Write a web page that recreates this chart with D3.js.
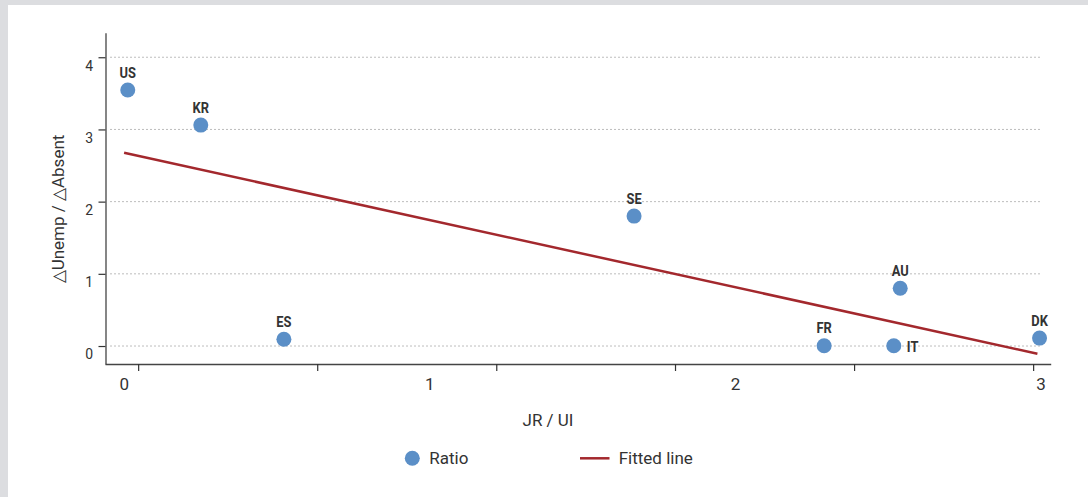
<!DOCTYPE html>
<html>
<head>
<meta charset="utf-8">
<script src="https://cdn.jsdelivr.net/npm/d3@7"></script>
<style>
  html, body { margin: 0; padding: 0; background: #dcdde0; }
  svg { display: block; }
  text { font-family: Roboto, "Noto Sans", sans-serif; fill: #333; }
</style>
</head>
<body>
<svg id="chart" width="1088" height="497"></svg>
<script>
// ---- data ----
const countries = ["US", "KR", "ES", "SE", "FR", "IT", "AU", "DK"];
const ratioX = [0.013, 0.252, 0.524, 1.670, 2.292, 2.520, 2.541, 2.997];
const ratioY = [3.546, 3.06, 0.093, 1.80, 0.004, 0.004, 0.80, 0.11];
const labelSide = ["top", "top", "top", "top", "top", "right", "top", "top"];
const fitX = [0.001, 2.99];
const fitY = [2.677, -0.107];
const xTickLabels = [0, 1, 2, 3];
const xTickMarks = [0.047, 0.633, 1.219, 1.804, 2.390, 2.976];
const yTicks = [0, 1, 2, 3, 4];
const xTitle = "JR / UI";
const yTitle = "\u25B3Unemp / \u25B3Absent";
const legendLabels = ["Ratio", "Fitted line"];

// ---- drawing ----
const svg = d3.select("#chart");
const blue = "#5b8fc7", red = "#a3282d";

svg.append("rect").attr("x", 8).attr("y", 5).attr("width", 1080).attr("height", 492).attr("fill", "#fff");

const x = d3.scaleLinear().domain([-0.0615, 3.0335]).range([105, 1050.7]);
const y = d3.scaleLinear().domain([-0.249, 4.34]).range([364, 32.7]);

// gridlines
svg.append("g").selectAll("line").data(yTicks).join("line")
  .attr("x1", 110).attr("x2", 1041)
  .attr("y1", d => y(d)).attr("y2", d => y(d))
  .attr("stroke", "#bdbdbd").attr("stroke-width", 1).attr("stroke-dasharray", "2,2");

// y axis
const yAxis = svg.append("g").attr("transform", "translate(105.5,0)")
  .call(d3.axisLeft(y).tickValues(yTicks).tickSize(7).tickSizeOuter(0).tickPadding(6).tickFormat(d3.format("d")));
yAxis.selectAll("text").attr("x", 0).attr("dy", "0.35em")
  .attr("transform", "translate(-12.3,7.4) scale(0.9,1)")
  .style("font-size", "15.5px").style("fill", "#333");

// x axis: tick marks
const xAxis = svg.append("g").attr("transform", "translate(0,364)")
  .call(d3.axisBottom(x).tickValues(xTickMarks).tickSize(7).tickSizeOuter(0).tickFormat(""));
// x axis: labels
const xLab = svg.append("g").attr("transform", "translate(0,364)")
  .call(d3.axisBottom(x).tickValues(xTickLabels).tickSize(0).tickPadding(14).tickFormat(d3.format("d")));
xLab.select(".domain").remove();
xLab.selectAll("text").style("font-size", "17px").style("fill", "#333");

[yAxis, xAxis].forEach(g => {
  g.select(".domain").attr("stroke", "#444").attr("stroke-width", 1.3);
  g.selectAll(".tick line").attr("stroke", "#333").attr("stroke-width", 1.2);
});

// fitted line
const line = d3.line().x(d => x(d[0])).y(d => y(d[1]));
svg.append("path").datum(fitX.map((v, i) => [v, fitY[i]]))
  .attr("d", line).attr("fill", "none").attr("stroke", red).attr("stroke-width", 2.5);

// points
const pts = countries.map((c, i) => ({ c, x: ratioX[i], y: ratioY[i], side: labelSide[i] }));
svg.append("g").selectAll("circle").data(pts).join("circle")
  .attr("cx", d => x(d.x)).attr("cy", d => y(d.y)).attr("r", 7.5).attr("fill", blue);

// country labels
svg.append("g").selectAll("text").data(pts).join("text")
  .attr("transform", d => d.side === "top"
    ? `translate(${x(d.x)},${y(d.y) - 12.5}) scale(0.86,1)`
    : `translate(${x(d.x) + 13},${y(d.y) + 6.5}) scale(0.86,1)`)
  .attr("text-anchor", d => d.side === "top" ? "middle" : "start")
  .style("font-size", "15px").style("font-weight", "bold").style("fill", "#333")
  .text(d => d.c);

// axis titles
svg.append("text").attr("x", 548).attr("y", 426).attr("text-anchor", "middle")
  .style("font-size", "17px").text(xTitle);
svg.append("text").attr("transform", "translate(64,209) rotate(-90)").attr("text-anchor", "middle")
  .style("font-size", "17px").text(yTitle);

// legend
const lg = svg.append("g");
lg.append("circle").attr("cx", 412.3).attr("cy", 458.3).attr("r", 7.5).attr("fill", blue);
lg.append("text").attr("x", 429.3).attr("y", 464.3).style("font-size", "17px").text(legendLabels[0]);
lg.append("line").attr("x1", 580).attr("x2", 609.5).attr("y1", 458.3).attr("y2", 458.3)
  .attr("stroke", red).attr("stroke-width", 2.5);
lg.append("text").attr("x", 618.7).attr("y", 464.3).style("font-size", "17px").text(legendLabels[1]);
</script>
</body>
</html>
